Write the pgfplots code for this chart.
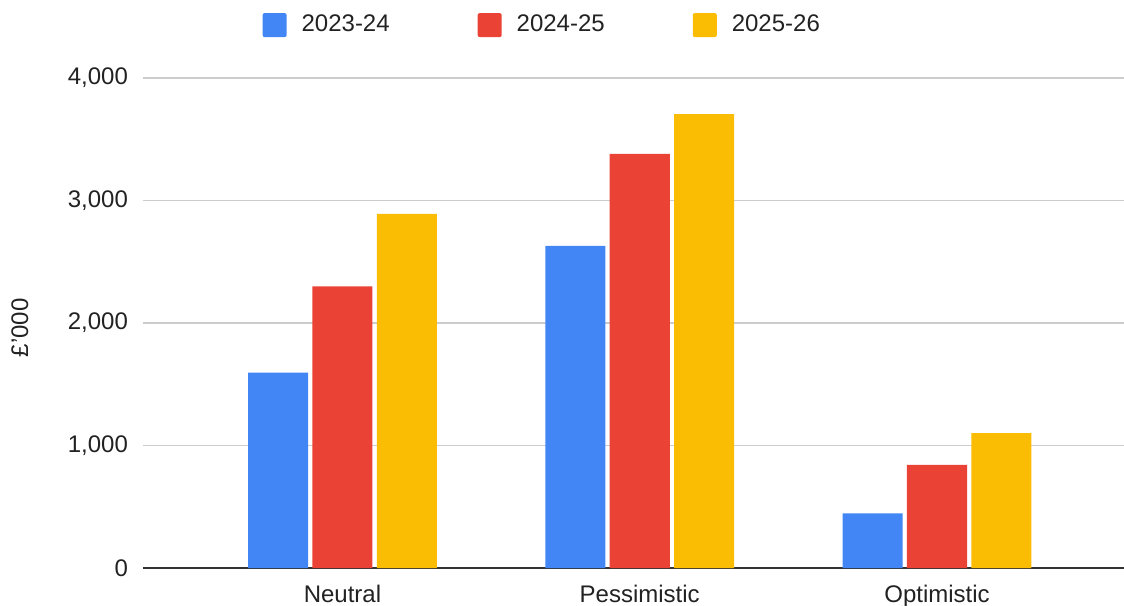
\documentclass[border=0pt]{standalone}
\usepackage{fontspec}
\setmainfont{Liberation Sans}
\usepackage{pgfplots}
\pgfplotsset{compat=1.18}
\definecolor{gblue}{HTML}{4285F4}
\definecolor{gred}{HTML}{EA4335}
\definecolor{gyellow}{HTML}{FBBC04}
\definecolor{gridgray}{HTML}{CCCCCC}
\definecolor{txt}{HTML}{222222}
\newcommand{\fs}{\fontsize{12pt}{14pt}\selectfont}
\begin{document}
\begin{tikzpicture}
\begin{axis}[
  scale only axis,
  width=490.5pt, height=245pt,
  xmin=-0.671, xmax=2.629,
  ymin=0, ymax=4000,
  xtick={0,1,2},
  xticklabels={Neutral,Pessimistic,Optimistic},
  ytick={0,1000,2000,3000,4000},
  /pgf/number format/assume math mode=true,
  /pgf/number format/1000 sep={,},
  scaled y ticks=false,
  ymajorgrids, grid style={gridgray, line width=0.7pt},
  axis x line*=bottom, axis y line*=left,
  y axis line style={draw=none},
  x axis line style={draw=black!80, line width=0.7pt, -},
  major tick length=0pt,
  tick style={draw=none},
  ticklabel style={font=\fs, text=txt},
  yticklabel style={xshift=-4pt, anchor=east},
  xticklabel style={yshift=-5pt},
  ylabel={£'000},
  every axis y label/.style={at={(axis description cs:-0.1254,0.49)}, rotate=90, anchor=center, font=\fs, text=txt},
  ybar, bar width=0.202,
  legend columns=3,
  legend style={at={(axis description cs:0.408,1.108)}, anchor=center, draw=none, fill=none, font=\fs, text=txt,
    /tikz/every even column/.append style={column sep=42pt},
    /tikz/every odd column/.append style={column sep=5.5pt}},
  legend image code/.code={\fill[#1, rounded corners=1pt] (0pt,-6pt) rectangle (12pt,6pt);},
]
\addplot[fill=gblue, draw=none, bar shift=-0.2165] coordinates {(0,1595) (1,2629) (2,446)};
\addplot[fill=gred, draw=none, bar shift=0] coordinates {(0,2298) (1,3380) (2,841)};
\addplot[fill=gyellow, draw=none, bar shift=0.2165] coordinates {(0,2890) (1,3706) (2,1102)};
\legend{2023-24,2024-25,2025-26}
\end{axis}
\pgfresetboundingbox
\path (-71.5pt,-18.5pt) rectangle (490.5pt,284pt);
\end{tikzpicture}
\end{document}
